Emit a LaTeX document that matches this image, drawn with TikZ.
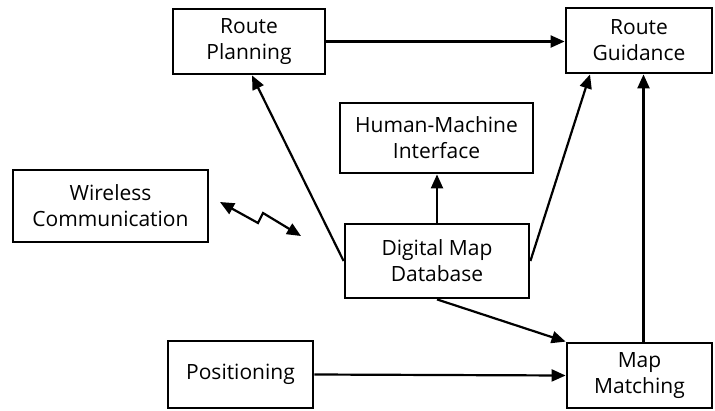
\documentclass[tikz,border=0pt]{standalone}
\usepackage{fontspec}
\setmainfont{Open Sans}
\usetikzlibrary{arrows.meta}
\tikzset{
  block/.style={draw, line width=2.8pt, fill=white, align=center, inner sep=0pt,
    font=\fontsize{21}{26}\selectfont},
  link/.style={line width=2.2pt, -{Triangle[length=14pt,width=12pt]}},
  biglink/.style={line width=2.2pt, {Triangle[length=14pt,width=12pt]}-{Triangle[length=14pt,width=12pt]}}
}
\begin{document}
\begin{tikzpicture}[x=1pt,y=-1pt]
\useasboundingbox (0,0) rectangle (715,410);
% blocks
\node[block, minimum width=152pt, minimum height=65pt] (rp)  at (249,41.5)  {Route\\Planning};
\node[block, minimum width=146pt, minimum height=65pt] (rg)  at (639,40.5)  {Route\\Guidance};
\node[block, minimum width=193pt, minimum height=70pt] (hmi) at (436.5,138) {Human-Machine\\Interface};
\node[block, minimum width=195pt, minimum height=72pt] (wc)  at (110.5,206) {Wireless\\Communication};
\node[block, minimum width=184pt, minimum height=74pt] (dmd) at (437,261)   {Digital Map\\Database};
\node[block, minimum width=145pt, minimum height=67pt] (pos) at (240.5,374.5) {Positioning};
\node[block, minimum width=145pt, minimum height=65pt] (mm)  at (639.5,375.5) {Map\\Matching};
% wireless link zigzag
\coordinate (z0) at (220,202);
\coordinate (z1) at (258,223);
\coordinate (z2) at (263,213);
\coordinate (z3) at (301,236);
% connectors
\draw[link] (rp.east) -- (rp.east -| rg.west);
\draw[link] (dmd.west) -- ([xshift=3pt]rp.south);
\draw[link] (dmd.east) -- ([xshift=-49pt]rg.south);
\draw[link] ([xshift=4pt]mm.north) -- ([xshift=4pt]mm.north |- rg.south);
\draw[link] (dmd.north) -- (dmd.north |- hmi.south);
\draw[link] (dmd.south) -- (mm.north west);
\draw[link] (pos.east) -- (mm.west);
\draw[biglink, line join=miter] (z0) -- (z1) -- (z2) -- (z3);
\end{tikzpicture}
\end{document}
